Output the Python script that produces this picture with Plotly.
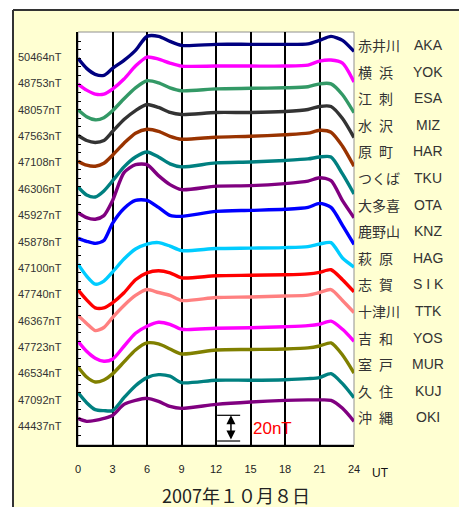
import plotly.graph_objects as go

# ---------------- data ----------------
hours = [0, 0.75, 1.5, 2.25, 3, 4, 5, 6, 7, 8, 9, 12, 15, 18, 20, 21, 22, 23, 24]

codes = ["AKA", "YOK", "ESA", "MIZ", "HAR", "TKU", "OTA", "KNZ",
         "HAG", "S I K", "TTK", "YOS", "MUR", "KUJ", "OKI"]
names_ja = ["赤井川", "横\u2002浜", "江\u2002刺", "水\u2002沢", "原\u2002町", "つくば", "大多喜", "鹿野山",
            "萩\u2002原", "志\u2002賀", "十津川", "吉\u2002和", "室\u2002戸", "久\u2002住", "沖\u2002縄"]
base_labels = ["50464nT", "48753nT", "48057nT", "47563nT", "47108nT", "46306nT", "45927nT",
               "45878nT", "47100nT", "47740nT", "46367nT", "47723nT", "46534nT", "47092nT", "44437nT"]
colors = ["#000080", "#FF00FF", "#339966", "#333333", "#993300", "#008080", "#800080",
          "#0000FF", "#00CCFF", "#FF0000", "#FF8080", "#FF00FF", "#808000", "#008080", "#800080"]

# deviations (nT) from the value at 0 UT
aka = [0, -7.8, -12.4, -13.2, -7.8, -1.6, 6.2, 17.1, 17.1, 13.2, 10.1, 10.9, 10.9, 10.9, 11.3, 14.0, 17.1, 14.0, 5.4]
yok = [0, -4.7, -7.8, -7.8, -3.9, 3.9, 14.0, 21.0, 19.4, 16.3, 14.0, 14.0, 14.0, 14.0, 14.8, 17.9, 18.7, 16.3, 1.6]
esa = [0, -5.4, -7.8, -6.2, -0.8, 8.6, 17.1, 22.6, 21.0, 17.1, 14.8, 16.3, 16.7, 17.1, 17.9, 20.2, 20.2, 11.7, -2.3]
miz = [0, -3.9, -5.4, -3.9, 3.1, 12.4, 19.4, 24.1, 21.8, 17.9, 16.3, 17.9, 17.9, 18.7, 20.2, 22.6, 22.6, 13.2, -1.6]
har = [0, -3.1, -3.9, -1.6, 4.7, 14.0, 21.8, 24.9, 23.3, 19.4, 17.1, 18.7, 19.4, 20.6, 21.8, 24.1, 22.6, 11.7, -3.9]
tku = [0, -6.2, -7.8, -3.1, 4.7, 15.6, 23.3, 27.2, 23.3, 17.9, 15.6, 18.7, 19.4, 20.6, 21.8, 23.3, 23.3, 10.1, -5.4]
ota = [0, -3.9, -5.1, -2.3, 9.3, 31.1, 37.3, 37.3, 28.8, 21.8, 17.9, 20.6, 21.0, 22.6, 24.5, 27.2, 24.9, 9.3, -3.9]
knz = [0, -2.3, -3.9, -1.6, 11.7, 23.3, 29.6, 29.6, 24.1, 17.9, 17.1, 21.0, 21.8, 22.6, 24.1, 27.2, 24.1, 10.1, -4.7]
hag = [0, -9.3, -15.6, -13.2, -6.2, 3.9, 11.7, 15.6, 16.7, 14.0, 10.5, 12.1, 12.4, 12.8, 13.6, 15.6, 16.7, 4.7, -2.3]
sik = [0, -7.8, -14.0, -14.0, -10.1, -2.3, 7.8, 13.2, 14.8, 13.2, 9.3, 10.9, 11.3, 11.7, 12.4, 13.6, 15.6, 7.8, -1.6]
ttk = [0, -6.2, -11.7, -9.3, -1.6, 7.8, 15.6, 20.2, 17.9, 15.6, 11.7, 14.0, 14.4, 15.2, 15.9, 17.9, 20.2, 11.7, 2.3]
yos = [0, -7.8, -13.2, -15.6, -14.0, -3.9, 6.2, 11.7, 14.8, 13.2, 9.3, 10.1, 10.5, 11.3, 12.1, 13.2, 15.6, 9.3, 0]
mur = [0, -7.8, -11.7, -10.1, -5.4, 3.9, 13.2, 18.7, 17.9, 14.0, 10.1, 13.2, 13.6, 14.0, 14.8, 16.3, 18.7, 9.3, -4.7]
kuj = [0, -7.8, -13.2, -14.0, -14.0, -3.9, 5.4, 11.7, 14.0, 12.8, 7.8, 9.7, 9.7, 10.1, 10.9, 11.7, 14.8, 7.0, -3.9]
oki = [0, -2.3, -1.6, 0, 2.3, 10.9, 14.0, 15.6, 13.2, 9.3, 7.8, 10.9, 12.8, 14.0, 14.4, 14.4, 14.0, 7.8, -2.3]

series = [aka, yok, esa, miz, har, tku, ota, knz, hag, sik, ttk, yos, mur, kuj, oki]
station_step = 20          # nT between stacked traces
scale_bar_nT = 20
x_ticks = [0, 3, 6, 9, 12, 15, 18, 21, 24]
title_text = "2007年１０月８日"

# ---------------- layout geometry ----------------
W, H = 459, 507
L, R, T, B = 78, 354, 32, 445     # plot area in px
Y_TOP, Y_BOT = 20.5, -300.7        # nT range


def px(xp):
    return (xp - L) / (R - L)


def py(yp):
    return (B - yp) / (B - T)


fig = go.Figure()
for i, (vals, col) in enumerate(zip(series, colors)):
    fig.add_trace(go.Scatter(
        x=hours, y=[v - station_step * i for v in vals], mode="lines",
        line=dict(color=col, width=3.4, shape="spline", smoothing=0.7),
        showlegend=False, hoverinfo="skip"))

yellow = "#FFFFD2"
shapes = [
    # white margins outside the yellow panel
    dict(type="rect", xref="paper", yref="paper", x0=px(-5), x1=px(13), y0=py(520), y1=py(-5),
         fillcolor="white", line_width=0, layer="below"),
    dict(type="rect", xref="paper", yref="paper", x0=px(-5), x1=px(470), y0=py(10), y1=py(-5),
         fillcolor="white", line_width=0, layer="below"),
    # panel border (left and top)
    dict(type="line", xref="paper", yref="paper", x0=px(13), x1=px(13), y0=py(520), y1=py(10),
         line=dict(color="#333333", width=2)),
    dict(type="line", xref="paper", yref="paper", x0=px(13), x1=px(470), y0=py(10), y1=py(10),
         line=dict(color="#333333", width=2)),
    # plot frame (grey top/right)
    dict(type="rect", xref="paper", yref="paper", x0=0, x1=1, y0=0, y1=1,
         line=dict(color="#909090", width=1), layer="below"),
]

# 20 nT scale bar
bar_top = -277.6
bar_bot = bar_top - scale_bar_nT
for yb in (bar_top, bar_bot):
    shapes.append(dict(type="line", xref="x", yref="y", x0=12.1, x1=14.1, y0=yb, y1=yb,
                       line=dict(color="black", width=1.2)))

annotations = []
annotations.append(dict(x=13.3, y=bar_top, ax=13.3, ay=bar_bot, xref="x", yref="y",
                        axref="x", ayref="y", showarrow=True, arrowhead=2, arrowsize=1.2,
                        arrowwidth=1.5, arrowside="end+start", arrowcolor="black", text=""))
annotations.append(dict(x=16.9, y=(bar_top + bar_bot) / 2, xref="x", yref="y", text="20nT",
                        showarrow=False, xanchor="center", yanchor="middle",
                        font=dict(family="Liberation Sans", size=17, color="#FF0000")))

for i in range(len(series)):
    annotations.append(dict(x=px(64), y=py(57 + 26.36 * i), xref="paper", yref="paper",
                            text=base_labels[i], showarrow=False, xanchor="right", yanchor="middle",
                            font=dict(family="Liberation Sans", size=11, color="#333333")))
    annotations.append(dict(x=px(356), y=py(45 + 26.6 * i), xref="paper", yref="paper",
                            text=names_ja[i], showarrow=False, xanchor="left", yanchor="middle",
                            font=dict(family="Noto Sans CJK JP", size=14, color="#333333")))
    annotations.append(dict(x=px(428), y=py(45 + 26.6 * i), xref="paper", yref="paper",
                            text=codes[i], showarrow=False, xanchor="center", yanchor="middle",
                            font=dict(family="Liberation Sans", size=14, color="#333333")))

annotations.append(dict(x=px(380), y=py(473), xref="paper", yref="paper", text="UT",
                        showarrow=False, xanchor="center", yanchor="middle",
                        font=dict(family="Liberation Sans", size=12, color="#111111")))
annotations.append(dict(x=px(236), y=py(495), xref="paper", yref="paper", text=title_text,
                        showarrow=False, xanchor="center", yanchor="middle",
                        font=dict(family="Noto Sans CJK JP", size=18, color="#222222")))

fig.update_layout(
    width=W, height=H, autosize=False,
    margin=dict(l=L, r=W - R, t=T, b=H - B, pad=0),
    paper_bgcolor=yellow, plot_bgcolor="white",
    shapes=shapes, annotations=annotations,
    xaxis=dict(range=[0, 24], tickvals=x_ticks, ticktext=[str(v) for v in x_ticks],
               showgrid=True, gridcolor="black", gridwidth=1.5, zeroline=False,
               showline=True, linecolor="black", linewidth=1.5,
               ticks="outside", ticklen=13, tickcolor="rgba(0,0,0,0)",
               tickfont=dict(family="Liberation Sans", size=11, color="#222222")),
    yaxis=dict(range=[Y_BOT, Y_TOP], showgrid=False, zeroline=False, showticklabels=False,
               showline=True, linecolor="black", linewidth=1.5,
               ticks="inside", ticklen=3, tickcolor="black", tick0=0, dtick=20 / 3),
)

fig.write_html("out.html", config={"displayModeBar": False},
               post_script="document.body.style.margin='0';")
